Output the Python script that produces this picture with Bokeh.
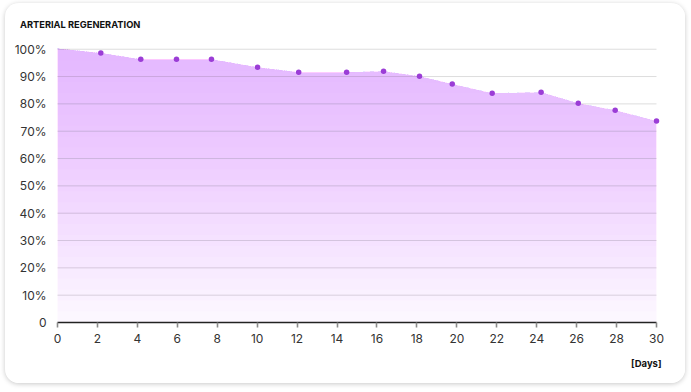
import numpy as np
from bokeh.plotting import figure
from bokeh.models import Range1d, FixedTicker, Title
from bokeh.embed import file_html
from bokeh.resources import INLINE

# ---- data ----
days = [0, 2.17, 4.17, 5.96, 7.71, 10.02, 12.08, 14.48, 16.33, 18.13, 19.77, 21.77, 24.22, 26.08, 27.93, 30]
regeneration = [100.3, 98.6, 96.3, 96.3, 96.3, 93.4, 91.6, 91.6, 91.9, 90.1, 87.3, 83.9, 84.3, 80.2, 77.7, 73.7]
x_ticks = list(range(0, 31, 2))
y_ticks = list(range(0, 101, 10))
y_tick_labels = {v: ("0" if v == 0 else f"{v}%") for v in y_ticks}
title_text = "ARTERIAL REGENERATION"
x_unit_text = "[Days]"

FONT = "Inter"
PURPLE = "#b660f0"
DOT = "#9b3dd6"

p = figure(width=680, height=380, output_backend="svg", toolbar_location=None,
           x_range=Range1d(-0.2, 30.2), y_range=Range1d(0, 101),
           min_border_left=48, min_border_right=25, min_border_top=43, min_border_bottom=61)
p.styles = {"position": "relative", "left": "5px", "top": "3px",
            "border-radius": "14px", "overflow": "hidden",
            "box-shadow": "0 1px 5px rgba(0,0,0,0.22)"}
p.outline_line_color = None
p.background_fill_color = "white"
p.border_fill_color = "white"
p.xgrid.visible = False
p.ygrid.visible = False

p.title = Title(text=title_text, align="left", offset=-33.5, standoff=29, vertical_align="top",
                text_font=FONT, text_font_size="9.3px", text_font_style="bold", text_color="#111111")
p.add_layout(Title(text=x_unit_text, align="right", offset=-1, standoff=21,
                   text_font=FONT, text_font_size="9.5px", text_font_style="bold", text_color="#111111"),
             "below")

# grid lines (drawn under the area)
grid_y = [v for v in y_ticks if v > 0]
p.segment(x0=[x_ticks[0]] * len(grid_y), x1=[x_ticks[-1]] * len(grid_y), y0=grid_y, y1=grid_y,
          line_color="#dddddd", line_width=1, level="underlay")

# gradient area: stacked translucent layers
vals = np.array(regeneration, dtype=float)
xs = np.array(days, dtype=float)
base_alpha = 0.03
top_alpha = 0.43
p.varea(x=xs, y1=np.zeros_like(vals), y2=vals, fill_color=PURPLE, fill_alpha=base_alpha)
N = 25
a = 1 - ((1 - top_alpha) / (1 - base_alpha)) ** (1.0 / N)
for k in range(N):
    low = 100.0 * k / N
    p.varea(x=xs, y1=np.minimum(low, vals), y2=vals, fill_color=PURPLE, fill_alpha=a)

# points
p.scatter(x=days[1:], y=regeneration[1:], size=5.5, fill_color=DOT, line_color=None)

# axes
xa = p.xaxis[0]
xa.ticker = FixedTicker(ticks=x_ticks)
xa.bounds = (0, 30)
xa.axis_line_color = "#222222"
xa.axis_line_width = 1.3
xa.major_tick_line_color = "#8a8a8a"
xa.major_tick_line_width = 1.6
xa.major_tick_out = 5
xa.major_tick_in = 0
xa.minor_tick_line_color = None
xa.major_label_standoff = 6
xa.major_label_text_font = FONT
xa.major_label_text_font_size = "12px"
xa.major_label_text_color = "#333333"

ya = p.yaxis[0]
ya.ticker = FixedTicker(ticks=y_ticks)
ya.major_label_overrides = y_tick_labels
ya.axis_line_color = None
ya.major_tick_line_color = None
ya.minor_tick_line_color = None
ya.major_tick_out = 0
ya.major_label_standoff = 7
ya.major_label_text_font = FONT
ya.major_label_text_font_size = "12px"
ya.major_label_text_color = "#333333"

open("out.html", "w").write(file_html(p, INLINE))
